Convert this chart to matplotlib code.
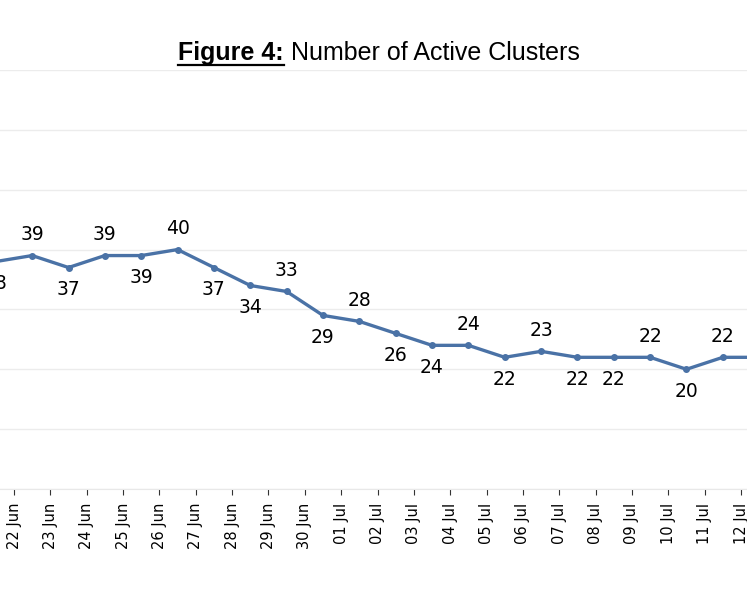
import matplotlib
matplotlib.use("Agg")
import matplotlib.pyplot as plt
from matplotlib.lines import Line2D

plt.rcParams['font.family'] = ['Liberation Sans', 'DejaVu Sans']

dates = ["21 Jun", "22 Jun", "23 Jun", "24 Jun", "25 Jun", "26 Jun", "27 Jun", "28 Jun", "29 Jun", "30 Jun",
         "01 Jul", "02 Jul", "03 Jul", "04 Jul", "05 Jul", "06 Jul", "07 Jul", "08 Jul", "09 Jul", "10 Jul",
         "11 Jul", "12 Jul", "13 Jul"]
values = [38, 39, 37, 39, 39, 40, 37, 34, 33, 29, 28, 26, 24, 24, 22, 23, 22, 22, 22, 20, 22, 22, 22]
above = [False, True, False, True, False, True, False, False, True, False, True, False, False, True,
         False, True, False, False, True, False, True, True, False]

fig = plt.figure(figsize=(7.47, 5.98), dpi=100)
ax = fig.add_axes([0, 1 - 489/598, 1, (489 - 70)/598])

xs = [i - 0.5 for i in range(len(values))]
color = '#4a72a6'
ax.plot(xs, values, color=color, lw=2.4, marker='o', ms=4, zorder=3)
for x, v, a in zip(xs, values, above):
    ax.annotate(str(v), (x, v), xytext=(0, 15 if a else -16), textcoords='offset points',
                ha='center', va='center', fontsize=13.5, color='black', family=['DejaVu Sans'],
                annotation_clip=False)

tick_labels = dates[1:]
ax.set_xticks(range(len(tick_labels)))
ax.set_xticklabels(tick_labels, rotation=90, fontsize=10.5, family=['DejaVu Sans'])
ax.set_xlim(-14/36.35, (747 - 14)/36.35)
ax.set_ylim(0, 70)
ax.set_yticks(range(0, 71, 10))
ax.tick_params(axis='y', length=0, labelleft=False)
ax.tick_params(axis='x', length=4, color='#333333', pad=6)
ax.grid(axis='y', color='#ececec', lw=1)
for s in ['left', 'right', 'top']:
    ax.spines[s].set_visible(False)
ax.spines['bottom'].set_color('#e8e8e8')
ax.set_axisbelow(True)

ty = 1 - 53/598
t1 = fig.text(0.5, ty, "Figure 4:", fontsize=18, fontweight='bold', ha='left', va='center')
t2 = fig.text(0.5, ty, " Number of Active Clusters", fontsize=18, ha='left', va='center')
fig.canvas.draw()
r = fig.canvas.get_renderer()
bb1 = t1.get_window_extent(r)
bb2 = t2.get_window_extent(r)
W = fig.bbox.width
total = bb1.width + bb2.width
x0 = 379 / W - total / 2 / W
t1.set_x(x0)
t2.set_x(x0 + bb1.width / W)
fig.canvas.draw()
bb1 = t1.get_window_extent(r)
yline = (bb1.y0 + 0.5) / fig.bbox.height
fig.add_artist(Line2D([bb1.x0 / W, bb1.x1 / W], [yline, yline],
                      transform=fig.transFigure, color='black', lw=1.6))

fig.savefig("out.png", dpi=100)
